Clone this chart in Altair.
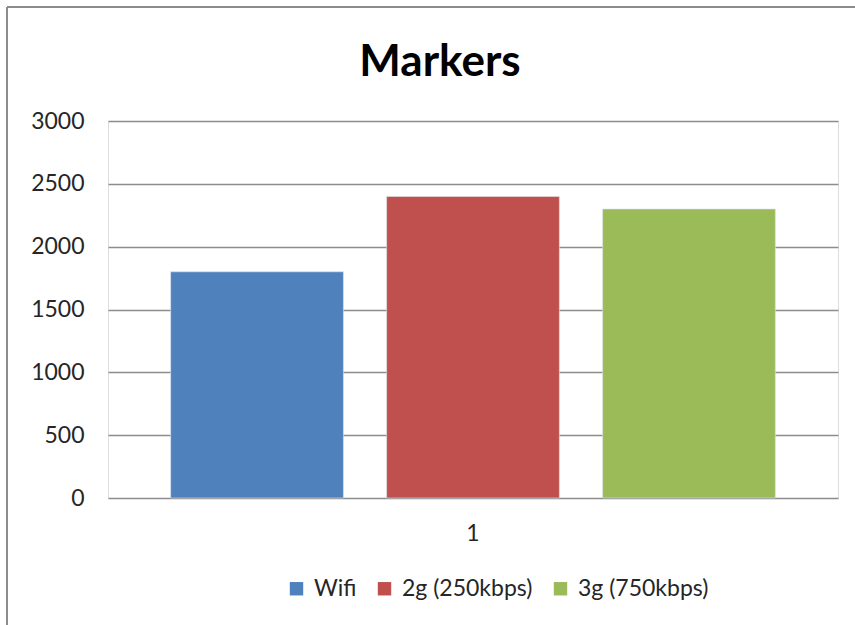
import altair as alt
import pandas as pd

categories = ["1", "1", "1"]
series = ["Wifi", "2g (250kbps)", "3g (750kbps)"]
values = [1800, 2400, 2300]
colors = ["#4F81BD", "#C0504D", "#9BBB59"]
y_ticks = [0, 500, 1000, 1500, 2000, 2500, 3000]

df = pd.DataFrame({"cat": categories, "series": series, "value": values})

FONT = "Lato"
TXT = "#262626"

bars = alt.Chart(df).mark_bar(stroke="#dfe6ee", strokeWidth=1, strokeOpacity=0.6).encode(
    x=alt.X("cat:N", title=None,
            scale=alt.Scale(paddingInner=0, paddingOuter=0),
            axis=alt.Axis(labelAngle=0, ticks=False, domain=False, labelPadding=24,
                          labelFontSize=23, labelColor=TXT, labelFont=FONT, grid=False)),
    xOffset=alt.XOffset("series:N", sort=series,
                        scale=alt.Scale(paddingInner=0.2, paddingOuter=0.29)),
    y=alt.Y("value:Q", title=None,
            scale=alt.Scale(domain=[0, 3000], nice=False),
            axis=alt.Axis(values=y_ticks, format="d", ticks=False, domain=False, labelPadding=24,
                          labelFontSize=23, labelColor=TXT, labelFont=FONT,
                          grid=True, gridColor="#8c8c8c", gridWidth=1.3)),
    color=alt.Color("series:N", sort=series,
                    scale=alt.Scale(domain=series, range=colors),
                    legend=alt.Legend(title=None, orient="none", direction="horizontal",
                                      legendX=177, legendY=456, symbolType="square",
                                      symbolSize=180, symbolStrokeWidth=0,
                                      labelFontSize=23, labelFont=FONT, labelColor=TXT,
                                      columnPadding=16, labelOffset=6, symbolOffset=0)),
)

border = alt.Chart(df).mark_rule(color="#8c8c8c", strokeWidth=2).encode(
    x=alt.value(-101), y=alt.value(-114), y2=alt.value(520)
)
border_top = alt.Chart(df).mark_rule(color="#8c8c8c", strokeWidth=2).encode(
    x=alt.value(-101), x2=alt.value(760), y=alt.value(-114)
)

chart = alt.layer(bars, border, border_top).properties(
    width=730, height=377,
    title=alt.TitleParams("Markers", fontSize=44, fontWeight="bold", font=FONT,
                          color="#000", anchor="middle", baseline="alphabetic",
                          dx=-33, offset=-114),
    autosize=alt.AutoSizeParams(type="none"),
    padding={"left": 108, "top": 121, "right": 17, "bottom": 127},
).configure_view(stroke=None).configure(background="white")

chart.save("out.html", embed_options={"renderer": "svg", "actions": False})
